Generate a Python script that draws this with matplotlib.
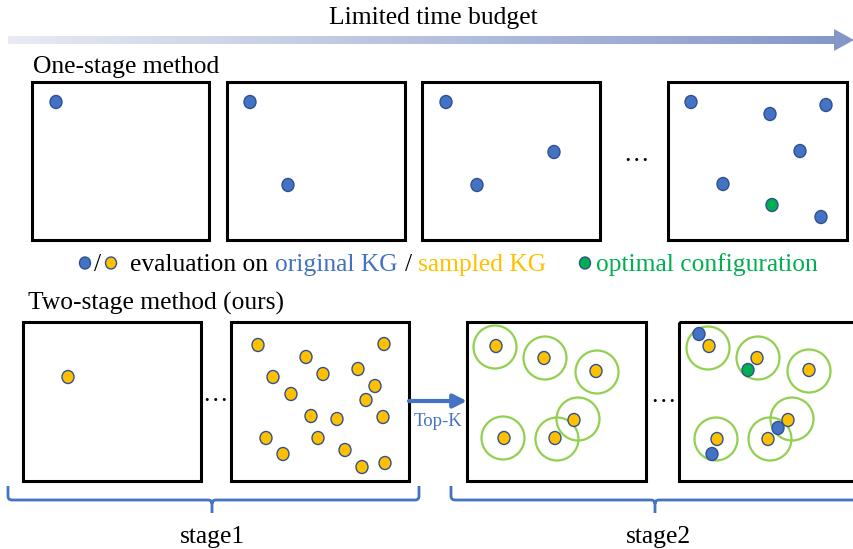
import numpy as np
import matplotlib
matplotlib.use("Agg")
import matplotlib.pyplot as plt
from matplotlib.patches import Rectangle, Ellipse, Circle, Polygon, PathPatch
from matplotlib.path import Path
from matplotlib.colors import LinearSegmentedColormap

# ---------------- data ----------------
title_text = "Limited time budget"
one_stage_label = "One-stage method"
two_stage_label = "Two-stage method (ours)"
stage_labels = ["stage1", "stage2"]
topk_label = "Top-K"

# panel frames (left, top, right, bottom) in pixel units
top_boxes = [(32, 82, 209, 240), (227, 82, 405, 240), (422, 82, 600, 240), (668, 82, 847, 240)]
bottom_boxes = [(23, 322, 201, 481), (231, 322, 409, 481), (467, 322, 646, 481), (679, 322, 862, 481)]

# one-stage evaluations (original KG)
one_blue_x = [56, 250, 288, 446, 554, 477, 691, 770, 826, 800, 723, 821]
one_blue_y = [102, 102, 185, 102, 152, 185, 102, 114, 105, 151, 184, 217]
one_green_x = [772]
one_green_y = [205]

# stage1 evaluations (sampled KG)
s1_orange_x = [68, 258, 384, 306, 273, 323, 358, 375, 291, 366, 311, 337, 383, 266, 318, 283, 345, 362, 385]
s1_orange_y = [377, 345, 344, 357, 377, 374, 369, 386, 394, 400, 416, 419, 417, 438, 438, 454, 450, 467, 463]

# stage2 top-K neighbourhoods
s2_circle_x = [495, 545, 597, 578, 503, 557, 708, 758, 809, 792, 716, 770]
s2_circle_y = [347, 358, 372, 419, 438, 439, 348, 358, 371, 419, 439, 439]
s2_orange_x = [496, 544, 596, 574, 504, 555, 709, 757, 809, 788, 717, 768]
s2_orange_y = [346, 358, 371, 420, 438, 438, 346, 358, 370, 420, 439, 439]
s2_blue_x = [699, 778, 712]
s2_blue_y = [334, 428, 454]
s2_green_x = [748]
s2_green_y = [370]

# ---------------- style ----------------
FONT = "Liberation Serif"
FS = 18.4
BLUE = "#4472C4"
BLUE_EDGE = "#2F528F"
ORANGE = "#FFC000"
GREEN = "#00B050"
LGREEN = "#92D050"

fig = plt.figure(figsize=(8.54, 5.49), dpi=100)
ax = fig.add_axes([0, 0, 1, 1])
ax.set_xlim(0, 854)
ax.set_ylim(549, 0)
ax.set_aspect("auto")
ax.axis("off")


def dot(x, y, fc, z=5, w=12, h=13):
    ax.add_patch(Ellipse((x, y), w, h, facecolor=fc, edgecolor=BLUE_EDGE, lw=1.0, zorder=z))


def frame(b):
    l, t, r, bt = b
    ax.add_patch(Rectangle((l, t), r - l, bt - t, fill=False, edgecolor="black", lw=2.2, zorder=3))


# gradient arrow on top
arrow_poly = Polygon([(8, 36), (834, 36), (834, 29), (854, 40), (834, 51), (834, 44), (8, 44)],
                     closed=True, facecolor="none", edgecolor="none")
ax.add_patch(arrow_poly)
cmap = LinearSegmentedColormap.from_list("g", ["#E8EBF4", "#8496C8"])
grad = np.linspace(0, 1, 256).reshape(1, -1)
im = ax.imshow(grad, cmap=cmap, extent=(8, 854, 51, 29), aspect="auto", zorder=2)
im.set_clip_path(arrow_poly)
ax.set_xlim(0, 854)
ax.set_ylim(549, 0)

ax.text(433, 24, title_text, fontsize=FS, family=FONT, ha="center", va="baseline")
ax.text(33, 73, one_stage_label, fontsize=FS, family=FONT, ha="left", va="baseline")
ax.text(28, 310, two_stage_label, fontsize=FS, family=FONT, ha="left", va="baseline")

for b in top_boxes + bottom_boxes:
    frame(b)

# ellipses
for (ex, ey) in [(636, 161), (215, 401), (663, 402)]:
    ax.text(ex, ey, "\u2026", fontsize=FS, family=FONT, ha="center", va="baseline")

# one-stage dots
for x, y in zip(one_blue_x, one_blue_y):
    dot(x, y, BLUE)
for x, y in zip(one_green_x, one_green_y):
    dot(x, y, GREEN)

# legend row
dot(85, 263, BLUE, w=11, h=12)
ax.text(98, 271, "/", fontsize=FS, family=FONT, ha="center", va="baseline")
dot(111, 263, ORANGE, w=11, h=12)
ax.text(130, 271, "evaluation on", fontsize=FS, family=FONT, ha="left", va="baseline")
ax.text(275.5, 271, "original KG", fontsize=FS, family=FONT, color=BLUE, ha="left", va="baseline")
ax.text(405, 271, "/", fontsize=FS, family=FONT, ha="left", va="baseline")
ax.text(418.5, 271, "sampled KG", fontsize=FS, family=FONT, color=ORANGE, ha="left", va="baseline")
dot(585, 263, GREEN, w=11, h=12)
ax.text(596, 271, "optimal configuration", fontsize=FS, family=FONT, color=GREEN, ha="left", va="baseline")

# stage1
for x, y in zip(s1_orange_x, s1_orange_y):
    dot(x, y, ORANGE)

# stage2
for x, y in zip(s2_circle_x, s2_circle_y):
    ax.add_patch(Circle((x, y), 21.5, fill=False, edgecolor=LGREEN, lw=1.6, zorder=4))
for x, y in zip(s2_orange_x, s2_orange_y):
    dot(x, y, ORANGE)
for x, y in zip(s2_blue_x, s2_blue_y):
    dot(x, y, BLUE, z=6)
for x, y in zip(s2_green_x, s2_green_y):
    dot(x, y, GREEN, z=6)

# Top-K arrow
ax.annotate("", xy=(467, 401), xytext=(409, 401),
            arrowprops=dict(arrowstyle="-|>", color=BLUE, lw=3, mutation_scale=20,
                            shrinkA=0, shrinkB=0), zorder=6)
ax.text(438, 426, topk_label, fontsize=13.5, family=FONT, color=BLUE, ha="center", va="baseline")


# braces
def brace(x0, x1, xc, ytop=486, ymid=500, ytip=513, r=4):
    verts = [(x0, ytop), (x0, ymid - r), (x0, ymid), (x0 + r, ymid), (xc - r, ymid), (xc, ymid), (xc, ymid + r),
             (xc, ytip),
             (xc, ymid + r), (xc, ymid), (xc + r, ymid), (x1 - r, ymid), (x1, ymid), (x1, ymid - r), (x1, ytop)]
    codes = [Path.MOVETO, Path.LINETO, Path.CURVE3, Path.CURVE3, Path.LINETO, Path.CURVE3, Path.CURVE3,
             Path.LINETO,
             Path.MOVETO, Path.CURVE3, Path.CURVE3, Path.LINETO, Path.CURVE3, Path.CURVE3, Path.LINETO]
    ax.add_patch(PathPatch(Path(verts, codes), fill=False, edgecolor=BLUE, lw=2.0, zorder=3))


brace(8, 419, 212)
brace(451, 880, 655)
ax.text(212, 543, stage_labels[0], fontsize=FS, family=FONT, ha="center", va="baseline")
ax.text(658, 543, stage_labels[1], fontsize=FS, family=FONT, ha="center", va="baseline")

fig.savefig("out.png", dpi=100)
